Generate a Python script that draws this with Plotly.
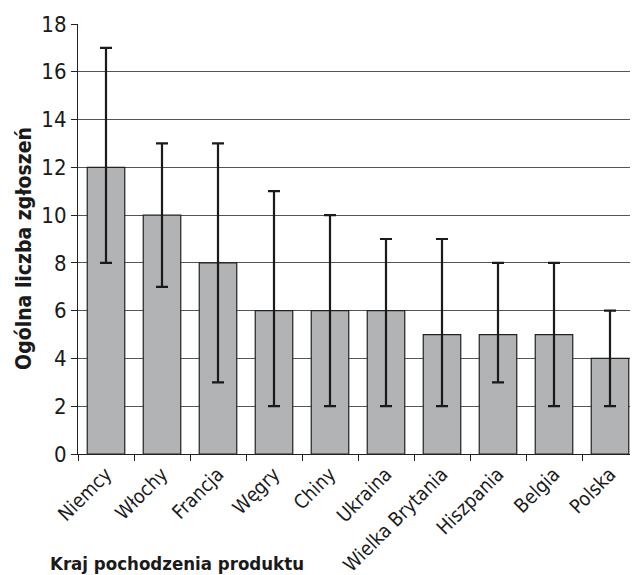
import plotly.graph_objects as go

categories = ["Niemcy", "Włochy", "Francja", "Węgry", "Chiny", "Ukraina",
              "Wielka Brytania", "Hiszpania", "Belgia", "Polska"]
values = [12, 10, 8, 6, 6, 6, 5, 5, 5, 4]
upper = [17, 13, 13, 11, 10, 9, 9, 8, 8, 6]
lower = [8, 7, 3, 2, 2, 2, 2, 3, 2, 2]
y_ticks = [0, 2, 4, 6, 8, 10, 12, 14, 16, 18]

err_plus = [u - v for u, v in zip(upper, values)]
err_minus = [v - l for v, l in zip(values, lower)]

FONT = "DejaVu Sans Condensed, Liberation Sans Narrow, sans-serif"

fig = go.Figure(go.Bar(
    x=categories, y=values,
    marker=dict(color="#b2b3b5", line=dict(color="#222222", width=1.2)),
    width=0.67,
    error_y=dict(type="data", symmetric=False, array=err_plus, arrayminus=err_minus,
                 color="#1a1a1a", thickness=2.2, width=6),
))

fig.update_layout(
    width=630, height=567,
    margin=dict(l=70, r=0, t=16, b=121),
    plot_bgcolor="white", paper_bgcolor="white",
    showlegend=False,
    font=dict(family=FONT, color="#1a1a1a"),
    xaxis=dict(
        automargin=False,
        tickangle=-45, tickfont=dict(size=19.5, family=FONT),
        showline=True, linecolor="#222", linewidth=1.2,
        ticks="outside", ticklen=6, tickcolor="#222",
        tickson="boundaries", showgrid=False,
    ),
    yaxis=dict(
        automargin=False,
        range=[0, 18], tickvals=y_ticks, tickfont=dict(size=22, family=FONT),
        showline=True, linecolor="#222", linewidth=1.2,
        ticks="outside", ticklen=6, tickcolor="#222",
        showgrid=True, gridcolor="#555", gridwidth=1,
        zeroline=False,
    ),
    annotations=[
        dict(
            text="<b>Kraj pochodzenia produktu</b>", xref="paper", yref="paper",
            x=-0.0536, y=-0.2535, xanchor="left", yanchor="middle", showarrow=False,
            font=dict(size=18.5, family=FONT),
        ),
        dict(
            text="<b>Ogólna liczba zgłoszeń</b>", xref="paper", yref="paper",
            x=-0.0964, y=0.477, xanchor="center", yanchor="middle", showarrow=False,
            textangle=-90, font=dict(size=21, family=FONT),
        ),
    ],
)

fig.write_html("out.html")
